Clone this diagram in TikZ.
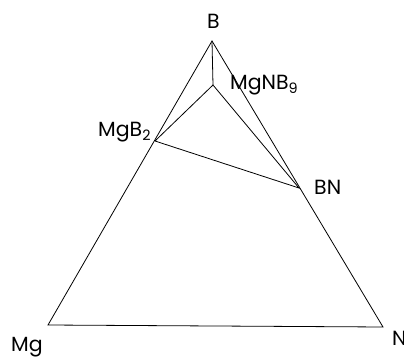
\documentclass[tikz,border=0pt]{standalone}
\usepackage{fontspec}
\setmainfont{Poppins}
\begin{document}
\begin{tikzpicture}[x=1pt,y=-1pt,
  edge/.style={line width=0.8pt,black,line join=miter},
  lbl/.style={font=\fontsize{20.5}{22}\selectfont,inner sep=0pt,text=black,anchor=base west}]
\clip (0,0) rectangle (404,358);
\useasboundingbox (0,0) rectangle (404,358);
\coordinate (B) at (212,41);
\coordinate (Mg) at (48,325);
\coordinate (N) at (383,327);
\coordinate (MgNB9) at (213,85);
\coordinate (MgB2) at (155,141);
\coordinate (BN) at (299,188);
\draw[edge] (B) -- (Mg) -- (N) -- cycle;
\draw[edge] (B) -- (MgNB9);
\draw[edge] (MgB2) -- (MgNB9) -- (BN) -- (MgB2);
\node[lbl,anchor=base] (lB) at (213.5,29) {B};
\node[lbl] (lMgNB9) at (230,90) {MgNB\textsubscript{9}};
\node[lbl] (lMgB2) at (98,137) {MgB\textsubscript{2}};
\node[lbl] (lBN) at (314,195) {BN};
\node[lbl] (lMg) at (11,351) {Mg};
\node[lbl] (lN) at (392,345) {N};
\end{tikzpicture}
\end{document}
